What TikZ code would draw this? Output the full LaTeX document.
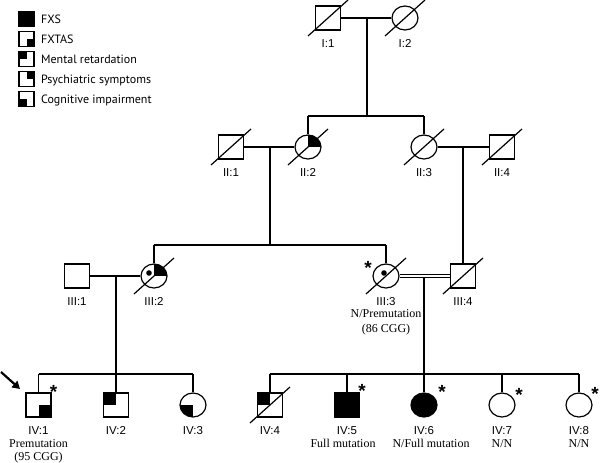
\documentclass[tikz,border=0pt]{standalone}
\usepackage{fontspec}
\setmainfont{Liberation Serif}
\newfontfamily\idfont{Liberation Sans}
\newfontfamily\legfont{PT Sans}
\usetikzlibrary{positioning,shapes.geometric,arrows.meta}

\tikzset{
	male/.style={rectangle, draw, fill=white, line width=1.2pt, minimum width=25pt, minimum height=24pt, inner sep=0pt},
	female/.style={ellipse, draw, fill=white, line width=1.2pt, minimum width=26pt, minimum height=24pt, inner sep=0pt},
	fxtas/.style={path picture={\fill[black] (path picture bounding box.center) rectangle (path picture bounding box.south east);}},
	mr/.style={path picture={\fill[black] (path picture bounding box.center) rectangle (path picture bounding box.north west);}},
	psych/.style={path picture={\fill[black] (path picture bounding box.center) rectangle (path picture bounding box.north east);}},
	cog/.style={path picture={\fill[black] (path picture bounding box.center) rectangle (path picture bounding box.south west);}},
	pedline/.style={line width=1.2pt},
	slash/.style={line width=1.2pt},
	idtext/.style={font=\idfont\fontsize{11.5}{13}\selectfont, inner sep=0pt, text height=8.2pt, text depth=0pt},
	note/.style={font=\fontsize{12}{14}\selectfont, inner sep=0pt, text height=7.9pt, text depth=0pt},
	legbox/.style={rectangle, draw, line width=1.8pt, minimum size=15pt, inner sep=0pt},
	legtext/.style={font=\legfont\fontsize{12}{14}\selectfont, inner sep=0pt, text height=8.4pt, text depth=0pt},
	astx/.style={font=\idfont\bfseries\fontsize{19}{19}\selectfont, inner sep=0pt, anchor=base},
	proband/.style={line width=2.2pt, -{Triangle[length=7.5pt,width=8.5pt]}}
}

\begin{document}
\begin{tikzpicture}[x=1pt,y=-1pt]
	\useasboundingbox (0,0) rectangle (600,463);

	% legend
	\node[legbox, fill=black](legFXS) at (26.5,19){};
	\node[legbox, fxtas](legFXTAS) at (26.5,39){};
	\node[legbox, mr](legMR) at (26.5,59){};
	\node[legbox, psych](legPsych) at (26.5,79){};
	\node[legbox, cog](legCog) at (26.5,99){};
	\node[legtext, right=6pt of legFXS](txtFXS){FXS};
	\node[legtext, right=6pt of legFXTAS](txtFXTAS){FXTAS};
	\node[legtext, right=6pt of legMR](txtMR){Mental retardation};
	\node[legtext, right=6pt of legPsych](txtPsych){Psychiatric symptoms};
	\node[legtext, right=6pt of legCog](txtCog){Cognitive impairment};

	% generation I
	\node[male](I1) at (328,18){};
	\node[female](I2) at (405,18){};

	% generation II
	\node[male](II1) at (231,147){};
	\node[female, psych](II2) at (308,147){};
	\node[female](II3) at (424,147){};
	\node[male](II4) at (502,147){};

	% generation III
	\node[male](III1) at (77,276){};
	\node[female, psych](III2) at (154,276){};
	\node[female](III3) at (386,276){};
	\node[male](III4) at (463,276){};

	% generation IV
	\node[male, fxtas](IV1) at (38.5,405){};
	\node[male, mr](IV2) at (116,405){};
	\node[female, cog](IV3) at (193,405){};
	\node[male, mr](IV4) at (270,405){};
	\node[male, fill=black](IV5) at (347,405){};
	\node[female, fill=black](IV6) at (424,405){};
	\node[female](IV7) at (502,405){};
	\node[female](IV8) at (579,405){};

	% junctions
	\coordinate (mI) at (367,18);
	\coordinate (jI) at (367,116);
	\coordinate (sII2) at (308,116);
	\coordinate (sII3) at (424,116);
	\coordinate (mII12) at (270,147);
	\coordinate (jII) at (270,245);
	\coordinate (sIII2) at (154,245);
	\coordinate (sIII3) at (386,245);
	\coordinate (mII34) at (463,147);
	\coordinate (mIII12) at (116,276);
	\coordinate (sIV1) at (38.5,374);
	\coordinate (sIV3) at (193,374);
	\coordinate (mIII34) at (424,276);
	\coordinate (sIV4) at (270,374);
	\coordinate (sIV8) at (579,374);

	\draw[pedline] (I1) -- (I2);
	\draw[pedline] (mI) -- (jI);
	\draw[pedline] (sII2) -- (sII3);
	\draw[pedline] (sII2) -- (II2);
	\draw[pedline] (sII3) -- (II3);
	\draw[pedline] (II1) -- (II2);
	\draw[pedline] (II3) -- (II4);
	\draw[pedline] (mII12) -- (jII);
	\draw[pedline] (sIII2) -- (sIII3);
	\draw[pedline] (sIII2) -- (III2);
	\draw[pedline] (sIII3) -- (III3);
	\draw[pedline] (mII34) -- (III4);
	\draw[pedline] (III1) -- (III2);
	\draw[pedline] (mIII12) -- (IV2);
	\draw[pedline] (sIV1) -- (sIV3);
	\draw[pedline] (sIV1) -- (IV1);
	\draw[pedline] (sIV3) -- (IV3);
	\draw[pedline] (mIII34) -- (IV6);
	\draw[pedline] (sIV4) -- (sIV8);
	\foreach \n in {IV4,IV5,IV7,IV8}
		\draw[pedline] (\n |- sIV4) -- (\n);
	\draw[pedline, double, double distance=2.2pt] (III3) -- (III4);

	% carriers and deceased
	\fill ([shift={(-5,-3)}]III2.center) circle (2.8pt);
	\fill ([shift={(-2,-3)}]III3.center) circle (2.8pt);
	\foreach \n in {I1,I2,II1,II2,II3,II4,III2,III3,III4,IV4}
		\draw[slash] ([shift={(-20,18)}]\n.center) -- ([shift={(20,-18)}]\n.center);

	% labels
	\foreach \n/\t in {I1/I:1,I2/I:2,II1/II:1,II2/II:2,II3/II:3,II4/II:4,III1/III:1,III2/III:2,III3/III:3,III4/III:4,IV1/IV:1,IV2/IV:2,IV3/IV:3,IV4/IV:4,IV5/IV:5,IV6/IV:6,IV7/IV:7,IV8/IV:8}
		\node[idtext, below=8.3pt of \n](\n lab){\t};
	\node[note, below=4.3pt of III3lab](III3n1){N/Premutation};
	\node[note, below=5.8pt of III3n1](III3n2){(86 CGG)};
	\node[note, below=4.9pt of IV1lab](IV1n1){Premutation};
	\node[note, below=5pt of IV1n1](IV1n2){(95 CGG)};
	\node[note, below=4.9pt of IV5lab, xshift=-4pt](IV5n){Full mutation};
	\node[note, below=4.9pt of IV6lab, xshift=7pt](IV6n){N/Full mutation};
	\node[note, below=4.9pt of IV7lab](IV7n){N/N};
	\node[note, below=4.9pt of IV8lab](IV8n){N/N};

	% asterisks
	\node[astx](astIII3) at ([shift={(-18,-2)}]III3.center){*};
	\node[astx](astIV1) at ([shift={(15,-7)}]IV1.center){*};
	\node[astx](astIV5) at ([shift={(15,-8)}]IV5.center){*};
	\node[astx](astIV6) at ([shift={(18,-7)}]IV6.center){*};
	\node[astx](astIV7) at ([shift={(17,-4)}]IV7.center){*};
	\node[astx](astIV8) at ([shift={(16,-5)}]IV8.center){*};

	% proband
	\coordinate (arrS) at (1,372);
	\coordinate (arrE) at (20,389);
	\draw[proband] (arrS) -- (arrE);
\end{tikzpicture}
\end{document}
